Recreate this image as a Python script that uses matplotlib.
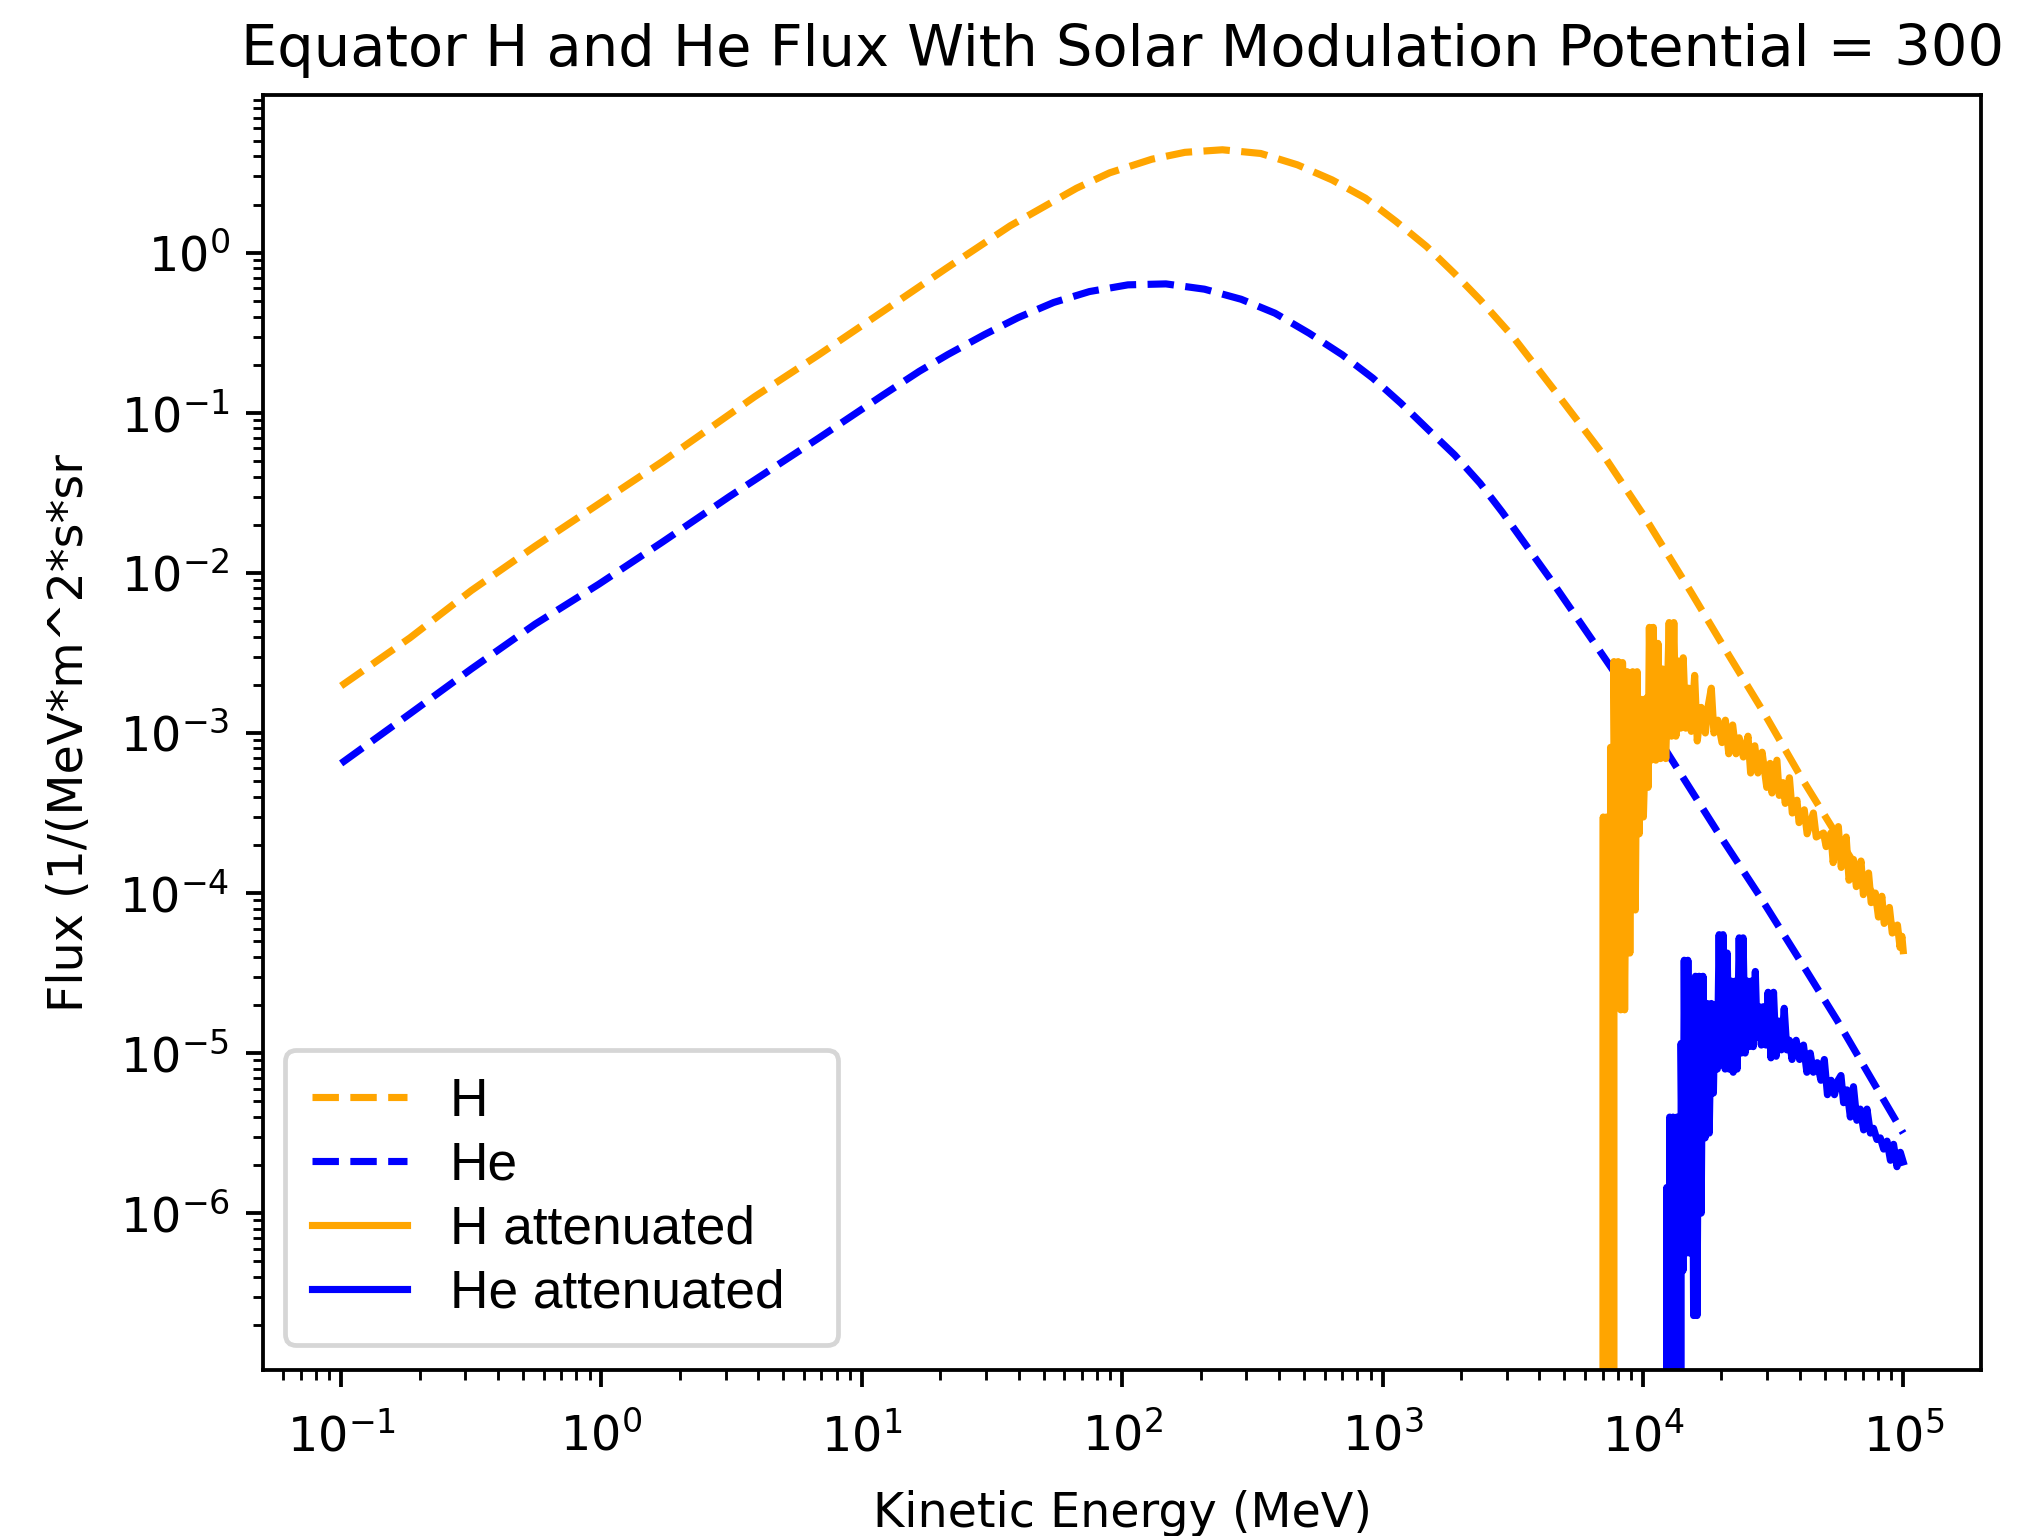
import numpy as np
import matplotlib
matplotlib.use("Agg")
import matplotlib.pyplot as plt

# Spectra digitised on a log-log grid: log10(kinetic energy / MeV), log10(flux)
ZERO = -np.inf  # log10(0): nothing survives the attenuation

h_log_energy = [-1.0, -0.736, -0.50, -0.255, -0.010, 0.235, 0.589, 0.834,
                1.080, 1.325, 1.570, 1.825, 1.952, 2.114, 2.241, 2.385, 2.532, 2.673,
                2.806, 2.934, 3.052, 3.169, 3.277, 3.375, 3.501, 3.662, 3.843, 4.003,
                4.185, 4.325, 4.466, 4.607, 4.728, 4.848, 4.969, 5.0]
h_log_flux = [-2.706, -2.406, -2.11, -1.833, -1.568, -1.303, -0.898, -0.6375,
              -0.367, -0.096, 0.169, 0.404, 0.50, 0.585, 0.628, 0.644, 0.621, 0.55,
              0.456, 0.342, 0.196, 0.04, -0.13, -0.294, -0.524, -0.8625, -1.25, -1.64,
              -2.12, -2.50, -2.876, -3.274, -3.593, -3.912, -4.23, -4.31]

he_log_energy = [-1.0, -0.736, -0.50, -0.255, -0.010, 0.235, 0.491, 0.834,
                 1.080, 1.221, 1.331, 1.472, 1.600, 1.737, 1.874, 2.022, 2.168, 2.316,
                 2.457, 2.587, 2.718, 2.846, 2.963, 3.071, 3.179, 3.277, 3.375, 3.460,
                 3.641, 3.823, 4.0, 4.124, 4.285, 4.446, 4.607, 4.748, 4.909, 5.0]
he_log_flux = [-3.19, -2.88, -2.60, -2.32, -2.07, -1.806, -1.523, -1.158,
               -0.89, -0.74, -0.635, -0.51, -0.405, -0.31, -0.242, -0.2, -0.194, -0.227,
               -0.29, -0.377, -0.502, -0.6375, -0.783, -0.94, -1.11, -1.2625, -1.44, -1.62,
               -2.03, -2.46, -2.88, -3.20, -3.613, -4.012, -4.43, -4.80, -5.248, -5.5]

h_att_log_energy = [3.835, 3.848, 3.854, 3.861, 3.867, 3.876, 3.884, 3.889, 3.897, 3.905,
                    3.915, 3.922, 3.930, 3.940, 3.950, 3.961, 3.971, 3.978, 3.986, 3.995,
                    4.002, 4.015, 4.020, 4.025, 4.032, 4.040, 4.050, 4.058, 4.068, 4.076,
                    4.088, 4.101, 4.110, 4.119, 4.127, 4.135, 4.145, 4.155, 4.165, 4.176,
                    4.186, 4.199, 4.209, 4.224, 4.240, 4.250, 4.263, 4.273, 4.288, 4.304,
                    4.317, 4.330, 4.345, 4.358, 4.370, 4.386, 4.404, 4.414, 4.430, 4.442,
                    4.458, 4.476, 4.489, 4.496, 4.515, 4.524, 4.538, 4.547, 4.563, 4.574,
                    4.592, 4.600, 4.620, 4.631, 4.655, 4.666, 4.694, 4.704, 4.722, 4.731,
                    4.751, 4.762, 4.781, 4.792, 4.809, 4.820, 4.838, 4.847, 4.867, 4.877,
                    4.893, 4.905, 4.918, 4.927, 4.947, 4.958, 4.978, 4.988, 4.995, 5.0]
h_att_log_flux = [ZERO, -3.525, ZERO, -3.525, ZERO, -3.09, ZERO, -2.554, -4.375, -2.554,
                  -4.73, -2.56, -4.73, -2.617, -4.375, -2.617, -4.106, -2.617, -3.63, -2.79,
                  -3.525, -2.78, -3.34, -2.34, -3.17, -2.34, -3.17, -2.44, -3.16, -2.6,
                  -3.16, -2.31, -3.02, -2.31, -3.02, -2.55, -2.97, -2.53, -2.97, -2.72,
                  -2.99, -2.64, -3.05, -2.84, -3.0, -2.84, -2.72, -3.0, -2.92, -3.06,
                  -2.92, -3.13, -2.95, -3.13, -3.03, -3.15, -3.02, -3.25, -3.08, -3.25,
                  -3.12, -3.34, -3.19, -3.375, -3.17, -3.39, -3.31, -3.44, -3.28, -3.5,
                  -3.42, -3.56, -3.48, -3.63, -3.5, -3.65, -3.625, -3.71, -3.625, -3.81,
                  -3.585, -3.84, -3.65, -3.92, -3.79, -3.96, -3.80, -4.01, -3.875, -4.06,
                  -4.0, -4.15, -4.02, -4.19, -4.09, -4.25, -4.2, -4.34, -4.27, -4.36]

he_att_log_energy = [4.081, 4.092, 4.097, 4.103, 4.109, 4.116, 4.123, 4.131, 4.139, 4.147,
                     4.154, 4.159, 4.166, 4.173, 4.181, 4.189, 4.195, 4.202, 4.208, 4.216,
                     4.224, 4.231, 4.239, 4.247, 4.255, 4.263, 4.271, 4.277, 4.286, 4.293,
                     4.300, 4.308, 4.316, 4.324, 4.331, 4.339, 4.347, 4.355, 4.362, 4.370,
                     4.378, 4.385, 4.393, 4.401, 4.408, 4.416, 4.424, 4.432, 4.439, 4.447,
                     4.455, 4.463, 4.473, 4.481, 4.492, 4.502, 4.512, 4.522, 4.532, 4.543,
                     4.553, 4.563, 4.573, 4.589, 4.602, 4.617, 4.630, 4.643, 4.655, 4.670,
                     4.684, 4.697, 4.709, 4.723, 4.736, 4.750, 4.761, 4.771, 4.784, 4.797,
                     4.809, 4.822, 4.835, 4.848, 4.861, 4.874, 4.886, 4.899, 4.912, 4.925,
                     4.938, 4.951, 4.963, 4.976, 4.989, 5.0]
he_att_log_flux = [ZERO, -5.84, ZERO, -5.40, ZERO, -5.40, ZERO, -5.40, ZERO, -4.94,
                   -6.36, -4.42, -6.25, -4.42, -6.25, -4.56, -6.64, -4.52, -6.64, -4.52,
                   -6.0, -4.52, -5.53, -4.69, -5.5, -4.69, -5.25, -4.7, -5.1, -4.26,
                   -5.07, -4.26, -5.1, -4.375, -5.1, -4.55, -5.12, -4.55, -5.1, -4.28,
                   -5.0, -4.28, -5.0, -4.55, -4.96, -4.55, -4.96, -4.49, -4.9, -4.71,
                   -4.95, -4.71, -4.95, -4.62, -5.03, -4.62, -5.02, -4.8, -4.98, -4.72,
                   -4.98, -4.92, -5.04, -4.92, -5.04, -4.95, -5.12, -5.0, -5.12, -5.06,
                   -5.17, -5.04, -5.26, -5.17, -5.26, -5.17, -5.14, -5.31, -5.23, -5.4,
                   -5.21, -5.42, -5.35, -5.48, -5.35, -5.5, -5.47, -5.54, -5.53, -5.6,
                   -5.55, -5.67, -5.57, -5.71, -5.62, -5.68]

title = "Equator H and He Flux With Solar Modulation Potential = 300"
xlabel = "Kinetic Energy (MeV)"
ylabel = "Flux (1/(MeV*m^2*s*sr"


def linear(values):
    return np.power(10.0, np.asarray(values, dtype=float))


DPI = 342.7
fig = plt.figure(figsize=(2044.3 / DPI, 1536.3 / DPI), dpi=DPI)
ax = fig.add_axes([263 / 2044, 1 - 1370 / 1536, (1981 - 263) / 2044, (1370 - 95) / 1536])
ax.set_xscale("log")
ax.set_yscale("log")

ax.plot(linear(h_log_energy), linear(h_log_flux), "--", color="orange", label="H")
ax.plot(linear(he_log_energy), linear(he_log_flux), "--", color="blue", label="He")
ax.plot(linear(h_att_log_energy), linear(h_att_log_flux), "-", color="orange",
        label="H attenuated")
ax.plot(linear(he_att_log_energy), linear(he_att_log_flux), "-", color="blue",
        label="He attenuated")

ax.set_xlim(10 ** -1.3, 10 ** 5.3)
ax.set_ylim(10 ** -6.98, 10 ** 0.988)

ax.set_title(title, fontsize=12.1)
ax.set_xlabel(xlabel, fontsize=10, labelpad=6.2)
ax.set_ylabel(ylabel, fontsize=10, labelpad=5.6)
ax.tick_params(labelsize=10)
ax.tick_params(axis="x", which="major", pad=5.5)

ax.legend(loc="lower left", bbox_to_anchor=(0.013, 0.0196, 0.3217, 0.3),
          mode="expand", borderaxespad=0.0, borderpad=0.5, labelspacing=0.26,
          handlelength=1.78, handletextpad=0.8,
          prop={"family": "Liberation Sans", "size": 11.2})

fig.savefig("out.png", dpi=DPI)
